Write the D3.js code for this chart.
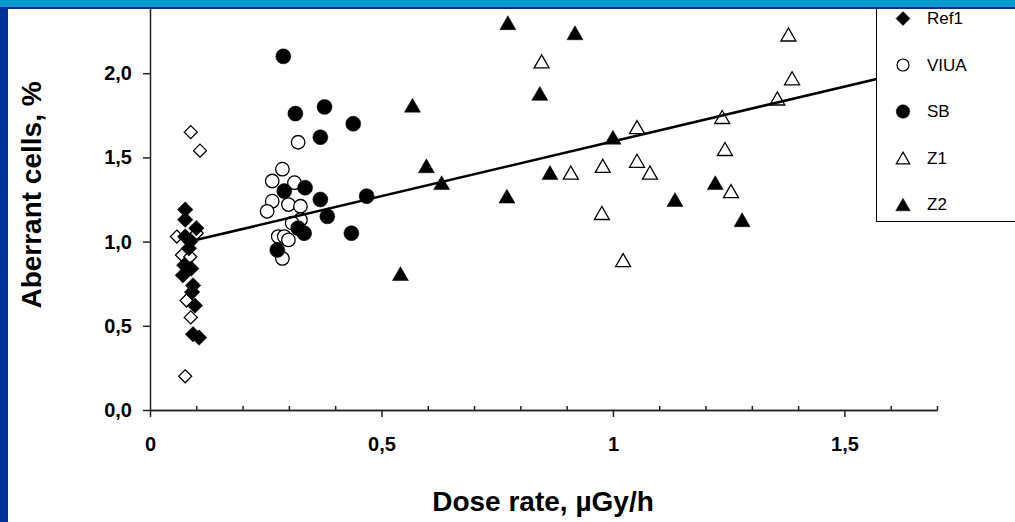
<!DOCTYPE html>
<html>
<head>
<meta charset="utf-8">
<script src="https://cdn.jsdelivr.net/npm/d3@7"></script>
<style>
  body { margin: 0; background: #fff; }
  svg { display: block; font-family: "Liberation Sans", Arial, sans-serif; }
</style>
</head>
<body>
<div id="chart"></div>
<script>
// values: dose rate (uGy/h) and aberrant cells (%)
var ref1X = [0.076, 0.076, 0.100, 0.076, 0.087, 0.084, 0.074, 0.089, 0.071, 0.093, 0.091, 0.097, 0.093, 0.106];
var ref1Y = [1.19, 1.13, 1.08, 1.03, 1.00, 0.96, 0.86, 0.84, 0.80, 0.74, 0.70, 0.62, 0.45, 0.43];
// open diamonds (series with no visible legend entry)
var ref2X = [0.088, 0.108, 0.058, 0.069, 0.087, 0.101, 0.079, 0.088, 0.076];
var ref2Y = [1.65, 1.54, 1.03, 0.92, 0.91, 1.05, 0.65, 0.55, 0.20];
var viuaX = [0.320, 0.286, 0.264, 0.312, 0.264, 0.299, 0.325, 0.253, 0.325, 0.307, 0.277, 0.290, 0.299, 0.286];
var viuaY = [1.59, 1.43, 1.36, 1.35, 1.24, 1.22, 1.21, 1.18, 1.13, 1.11, 1.03, 1.03, 1.01, 0.90];
var sbX = [0.288, 0.314, 0.377, 0.368, 0.439, 0.290, 0.335, 0.368, 0.468, 0.383, 0.320, 0.333, 0.435, 0.275];
var sbY = [2.10, 1.76, 1.80, 1.62, 1.70, 1.30, 1.32, 1.25, 1.27, 1.15, 1.08, 1.05, 1.05, 0.95];
var z1X = [0.846, 1.379, 1.387, 1.355, 1.236, 1.052, 0.978, 1.052, 1.080, 0.909, 1.242, 1.255, 0.976, 1.022];
var z1Y = [2.07, 2.23, 1.97, 1.85, 1.74, 1.68, 1.45, 1.48, 1.41, 1.41, 1.55, 1.30, 1.17, 0.89];
var z2X = [0.773, 0.567, 0.597, 0.630, 0.771, 0.541, 0.918, 0.842, 1.000, 0.864, 1.134, 1.221, 1.279];
var z2Y = [2.30, 1.81, 1.45, 1.35, 1.27, 0.81, 2.24, 1.88, 1.62, 1.41, 1.25, 1.35, 1.13];

// trend line ends
var trendX = [0.08, 1.70];
var trendY = [0.997, 2.05];

var xTicks = [0, 0.5, 1, 1.5];
var xMinor = [0.1, 0.2, 0.3, 0.4, 0.6, 0.7, 0.8, 0.9, 1.1, 1.2, 1.3, 1.4, 1.6, 1.7];
var yTicks = [0, 0.5, 1, 1.5, 2];

var legendNames = ["Ref1", "VIUA", "SB", "Z1", "Z2"];

var width = 1015, height = 522;

var svg = d3.select("#chart").append("svg")
    .attr("width", width)
    .attr("height", height);

// y top runs on under the slide banner
var x = d3.scaleLinear().domain([0, 1.7]).range([150, 937]);
var y = d3.scaleLinear().domain([0, 2.5]).range([410, -11]);

function comma(d) { return String(d).replace(".", ","); }

// marker shapes, size = width in px
var diamond = {
  draw: function(ctx, s) {
    var r = s / 2;
    ctx.moveTo(0, -r); ctx.lineTo(r, 0); ctx.lineTo(0, r); ctx.lineTo(-r, 0); ctx.closePath();
  }
};
var circle = {
  draw: function(ctx, s) {
    var r = s / 2;
    ctx.moveTo(r, 0); ctx.arc(0, 0, r, 0, 2 * Math.PI);
  }
};
var triangle = {
  draw: function(ctx, s) {
    var w = s / 2, h = s * 0.87 / 2;
    ctx.moveTo(0, -h); ctx.lineTo(w, h); ctx.lineTo(-w, h); ctx.closePath();
  }
};

var series = [
  { name: "Ref2", xs: ref2X, ys: ref2Y, type: diamond, size: 13, filled: false },
  { name: "Ref1", xs: ref1X, ys: ref1Y, type: diamond, size: 15.5, filled: true },
  { name: "VIUA", xs: viuaX, ys: viuaY, type: circle, size: 13.5, filled: false },
  { name: "SB", xs: sbX, ys: sbY, type: circle, size: 15, filled: true },
  { name: "Z1", xs: z1X, ys: z1Y, type: triangle, size: 15, filled: false },
  { name: "Z2", xs: z2X, ys: z2Y, type: triangle, size: 16, filled: true }
];

// axes
var yAxis = svg.append("g")
    .attr("transform", "translate(150,0)")
    .call(d3.axisLeft(y).tickValues(yTicks).tickSize(7).tickSizeOuter(0).tickPadding(11)
      .tickFormat(function(d) { return d3.format(".1f")(d).replace(".", ","); }));

var xMinorAxis = svg.append("g")
    .attr("transform", "translate(0,410)")
    .call(d3.axisBottom(x).tickValues(xMinor).tickSize(-4).tickSizeOuter(0).tickFormat(""));

var xAxis = svg.append("g")
    .attr("transform", "translate(0,410)")
    .call(d3.axisBottom(x).tickValues(xTicks).tickSize(7).tickSizeOuter(0).tickPadding(20)
      .tickFormat(comma));

svg.selectAll(".domain, .tick line").attr("stroke", "#222").attr("stroke-width", 1.5);
svg.selectAll(".tick text")
    .attr("fill", "#000")
    .style("font-size", "20px")
    .style("font-weight", "bold")
    .style("font-family", "'Liberation Sans', Arial, sans-serif");

// points
series.forEach(function(s) {
  var sym = d3.symbol().type(s.type).size(s.size);
  svg.append("g").selectAll("path")
    .data(s.xs.map(function(v, i) { return [v, s.ys[i]]; }))
    .enter().append("path")
      .attr("transform", function(d) { return "translate(" + x(d[0]) + "," + y(d[1]) + ")"; })
      .attr("d", sym)
      .attr("fill", s.filled ? "#000" : "#fff")
      .attr("stroke", "#000")
      .attr("stroke-width", s.filled ? 0.5 : 1.3);
});

// trend line
svg.append("path")
    .datum(trendX.map(function(v, i) { return [v, trendY[i]]; }))
    .attr("d", d3.line().x(function(d) { return x(d[0]); }).y(function(d) { return y(d[1]); }))
    .attr("fill", "none")
    .attr("stroke", "#000")
    .attr("stroke-width", 2.6);

// legend
var legend = svg.append("g");
legend.append("rect")
    .attr("x", 876.5).attr("y", -60)
    .attr("width", 200).attr("height", 281.5)
    .attr("fill", "#fff").attr("stroke", "#000").attr("stroke-width", 1);

var legendSeries = series.filter(function(s) { return legendNames.indexOf(s.name) >= 0; });
var item = legend.selectAll(".item")
    .data(legendSeries)
    .enter().append("g")
    .attr("class", "item")
    .attr("transform", function(d, i) { return "translate(903," + (18.5 + i * 46.5) + ")"; });

item.append("path")
    .attr("d", function(d) { return d3.symbol().type(d.type).size(d.size - 1.5)(); })
    .attr("fill", function(d) { return d.filled ? "#000" : "#fff"; })
    .attr("stroke", "#000")
    .attr("stroke-width", function(d) { return d.filled ? 0.5 : 1.2; });

item.append("text")
    .attr("x", 24)
    .attr("dy", "0.35em")
    .style("font-size", "17px")
    .text(function(d) { return d.name; });

// axis titles
svg.append("text")
    .attr("x", 543).attr("y", 511)
    .attr("text-anchor", "middle")
    .style("font-size", "28px").style("font-weight", "bold")
    .text("Dose rate, µGy/h");

svg.append("text")
    .attr("transform", "translate(41,195) rotate(-90)")
    .attr("text-anchor", "middle")
    .style("font-size", "28px").style("font-weight", "bold")
    .text("Aberrant cells, %");

// slide frame
svg.append("rect").attr("x", 0).attr("y", 0).attr("width", 8).attr("height", height).attr("fill", "#003399");
svg.append("rect").attr("x", 0).attr("y", 0).attr("width", width).attr("height", 7).attr("fill", "#0099cc");
svg.append("rect").attr("x", 0).attr("y", 7).attr("width", width).attr("height", 2).attr("fill", "#003399");
</script>
</body>
</html>
